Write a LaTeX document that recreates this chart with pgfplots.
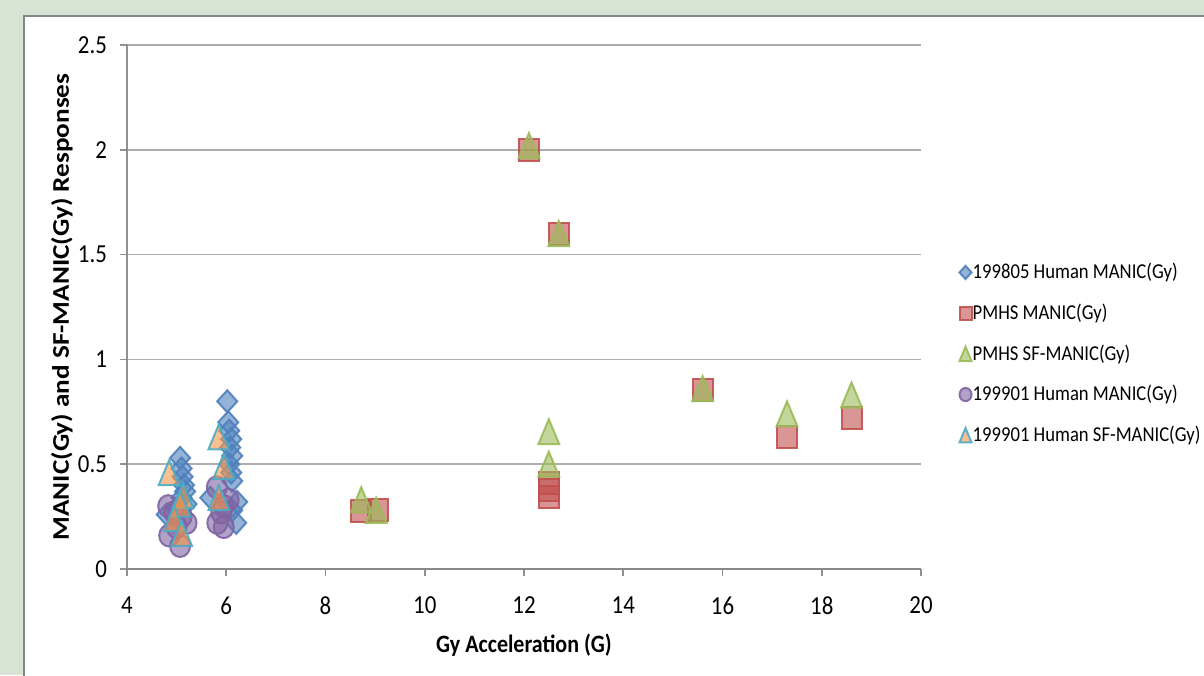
\documentclass[border=0pt]{standalone}
\usepackage{fontspec}
\setmainfont{Carlito}[FakeStretch=0.88]
\newfontfamily\ylabfont{Carlito}
\usepackage{graphicx}
\usepackage{pgfplots}
\pgfplotsset{compat=1.18}
\definecolor{bgc}{HTML}{D7E4D3}
\definecolor{axgray}{HTML}{868686}
\definecolor{gridgray}{HTML}{A6A6A6}
\definecolor{cblue}{HTML}{4F81BD}
\definecolor{cred}{HTML}{C0504D}
\definecolor{cgreen}{HTML}{9BBB59}
\definecolor{cpurple}{HTML}{8064A2}
\definecolor{corange}{HTML}{F79646}
\definecolor{cteal}{HTML}{4BACC6}
\pgfdeclareplotmark{xdia}{%
 \pgfpathmoveto{\pgfqpoint{0pt}{1.1\pgfplotmarksize}}%
 \pgfpathlineto{\pgfqpoint{\pgfplotmarksize}{0pt}}%
 \pgfpathlineto{\pgfqpoint{0pt}{-1.1\pgfplotmarksize}}%
 \pgfpathlineto{\pgfqpoint{-\pgfplotmarksize}{0pt}}%
 \pgfpathclose\pgfusepathqfillstroke}
\pgfdeclareplotmark{xsq}{%
 \pgfpathmoveto{\pgfqpoint{-\pgfplotmarksize}{-1.1\pgfplotmarksize}}%
 \pgfpathlineto{\pgfqpoint{\pgfplotmarksize}{-1.1\pgfplotmarksize}}%
 \pgfpathlineto{\pgfqpoint{\pgfplotmarksize}{1.1\pgfplotmarksize}}%
 \pgfpathlineto{\pgfqpoint{-\pgfplotmarksize}{1.1\pgfplotmarksize}}%
 \pgfpathclose\pgfusepathqfillstroke}
\pgfdeclareplotmark{xtri}{%
 \pgfpathmoveto{\pgfqpoint{0pt}{1.2\pgfplotmarksize}}%
 \pgfpathlineto{\pgfqpoint{\pgfplotmarksize}{-1.2\pgfplotmarksize}}%
 \pgfpathlineto{\pgfqpoint{-\pgfplotmarksize}{-1.2\pgfplotmarksize}}%
 \pgfpathclose\pgfusepathqfillstroke}
\pgfdeclareplotmark{xcirc}{%
 \pgfpathellipse{\pgfpointorigin}{\pgfqpoint{\pgfplotmarksize}{0pt}}{\pgfqpoint{0pt}{1.1\pgfplotmarksize}}%
 \pgfusepathqfillstroke}
\begin{document}
\begin{tikzpicture}
\fill[bgc] (0,0) rectangle (602pt,337.5pt);
\filldraw[fill=white, draw=axgray, line width=1pt] (12pt,-5pt) rectangle (615pt,329.5pt);
\begin{axis}[
  at={(63.5pt,53pt)}, anchor=south west,
  scale only axis, width=397pt, height=262pt,
  xmin=4, xmax=20, ymin=0, ymax=2.5,
  xtick={4,6,...,20}, ytick={0,0.5,1,1.5,2,2.5},
  axis x line*=bottom, axis y line*=left,
  axis line style={-, draw=axgray, line width=0.8pt},
  ymajorgrids, grid style={draw=gridgray, line width=0.8pt},
  tick align=outside, major tick length=3.5pt,
  tick style={draw=axgray, line width=0.8pt},
  /pgf/number format/assume math mode=true,
  ticklabel style={font=\fontsize{13}{15}\selectfont, text=black},
  yticklabel style={xshift=-3pt},
  xticklabel style={yshift=-7pt},
  xlabel={Gy Acceleration (G)},
  ylabel={\scalebox{1}[0.88]{\ylabfont\bfseries\fontsize{13.6}{16}\selectfont MANIC(Gy) and SF-MANIC(Gy) Responses}},
  x label style={font=\bfseries\fontsize{12.5}{15}\selectfont, at={(axis description cs:0.5,-0.145)}, anchor=center},
  y label style={at={(axis description cs:-0.082,0.5)}, anchor=center},
  legend style={at={(1.048,0.592)}, anchor=north west, draw=none, fill=none, inner sep=0pt,
    font=\fontsize{10.6}{12.5}\selectfont, row sep=7.1pt, legend cell align=left,
    nodes={inner xsep=0.6pt}},
  legend image code/.code={\draw[#1, mark size=3pt] plot coordinates {(0.1cm,0cm)};},
  fill opacity=0.6, draw opacity=0.9, text opacity=1,
]
\addplot[only marks, mark=xdia, mark size=5pt, draw=cblue, fill=cblue, line width=1pt] coordinates {
(4.80,0.26) (5.07,0.53) (5.10,0.48) (5.12,0.44) (5.15,0.40) (5.17,0.37) (5.10,0.34) (5.20,0.31) (5.00,0.29)
(6.02,0.80) (6.04,0.70) (6.06,0.66) (6.10,0.62) (6.08,0.58) (6.12,0.54) (6.06,0.50) (6.10,0.46) (6.12,0.42)
(5.68,0.34) (6.22,0.32) (6.20,0.22) (6.12,0.28)
};
\addlegendentry{199805 Human MANIC(Gy)}
\addplot[only marks, mark=xsq, mark size=5pt, draw=cred, fill=cred, line width=1pt] coordinates {
(12.1,2.0) (12.7,1.6) (8.72,0.275) (9.06,0.28) (12.5,0.41) (12.5,0.375) (12.5,0.345) (15.6,0.855) (17.3,0.63) (18.6,0.72)
};
\addlegendentry{PMHS MANIC(Gy)}
\addplot[only marks, mark=xtri, mark size=5.2pt, draw=cgreen, fill=cgreen, line width=1pt] coordinates {
(12.1,2.02) (12.7,1.60) (8.72,0.33) (9.02,0.28) (12.5,0.655) (12.5,0.50) (15.6,0.86) (17.3,0.74) (18.6,0.83)
};
\addlegendentry{PMHS SF-MANIC(Gy)}
\addplot[only marks, mark=xcirc, mark size=5pt, draw=cpurple, fill=cpurple, line width=1pt] coordinates {
(4.83,0.30) (4.85,0.16) (5.00,0.20) (5.07,0.11) (5.20,0.22) (4.95,0.27) (5.10,0.25)
(5.81,0.39) (5.82,0.22) (5.95,0.30) (6.05,0.33) (5.95,0.20) (5.90,0.27)
};
\addlegendentry{199901 Human MANIC(Gy)}
\addplot[only marks, mark=xtri, mark size=5.2pt, draw=cteal, fill=corange, line width=1pt] coordinates {
(4.85,0.46) (5.13,0.35) (5.07,0.31) (4.95,0.24) (5.10,0.17) (5.85,0.63) (5.95,0.49) (5.85,0.34)
};
\addlegendentry{199901 Human SF-MANIC(Gy)}
\end{axis}
\pgfresetboundingbox
\path[use as bounding box] (0,0) rectangle (602pt,337.5pt);
\end{tikzpicture}
\end{document}
